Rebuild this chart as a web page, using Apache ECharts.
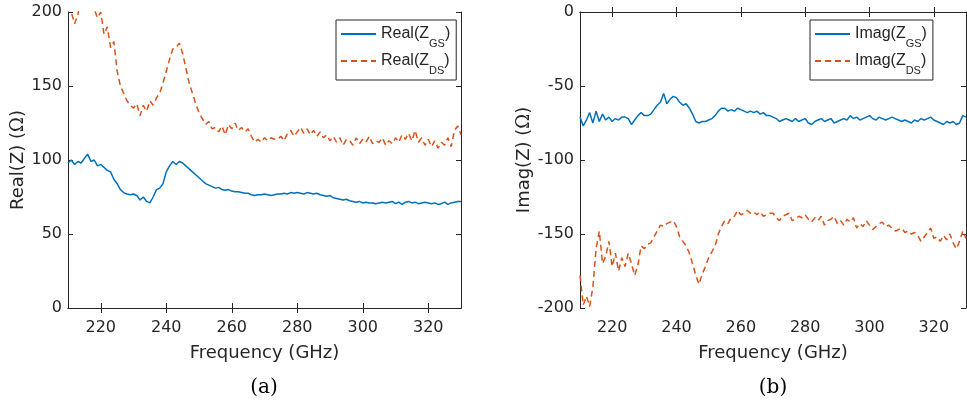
<!DOCTYPE html>
<html>
<head>
<meta charset="utf-8">
<script src="https://cdn.jsdelivr.net/npm/echarts@6/dist/echarts.min.js"></script>
<style>
  html, body { margin: 0; padding: 0; background: #fff; }
  #main { width: 967px; height: 403px; }
</style>
</head>
<body>
<div id="main"></div>
<script>
// frequency points (GHz)
const freq = [
  210, 211, 212, 213, 214, 215, 216, 217, 218, 219, 220,
  221, 222, 223, 224, 225, 226, 227, 228, 229, 230,
  231, 232, 233, 234, 235, 236, 237, 238, 239, 240,
  241, 242, 243, 244, 245, 246, 247, 248, 249, 250,
  251, 252, 253, 254, 255, 256, 257, 258, 259, 260,
  261, 262, 263, 264, 265, 266, 267, 268, 269, 270,
  271, 272, 273, 274, 275, 276, 277, 278, 279, 280,
  281, 282, 283, 284, 285, 286, 287, 288, 289, 290,
  291, 292, 293, 294, 295, 296, 297, 298, 299, 300,
  301, 302, 303, 304, 305, 306, 307, 308, 309, 310,
  311, 312, 313, 314, 315, 316, 317, 318, 319, 320,
  321, 322, 323, 324, 325, 326, 327, 328, 329, 330
]

const realGS = [
  98, 100, 97, 99, 98, 101, 104, 99, 100, 96, 97,
  95, 93, 92, 87, 84, 80, 78, 77, 76.5, 77,
  76, 73, 75, 72, 71, 75, 80, 81, 84, 92,
  96, 99, 97, 99, 98, 96, 94, 92, 90, 88,
  86, 84, 83, 82, 81, 81.5, 80, 79.5, 80, 79,
  78.5, 78.5, 78, 77.5, 77.5, 76.5, 76, 76.5, 76.5, 77,
  76.5, 76, 76.5, 77, 77, 77.5, 77, 78, 77.5, 78,
  77.5, 77, 78, 77.5, 77, 77.5, 76.5, 76, 75.5, 76,
  74.5, 74, 73.5, 73, 73.5, 72.5, 72, 71.5, 72, 71,
  71.5, 71, 71, 70.5, 71, 71.5, 71, 71.5, 72, 70.5,
  71.5, 70, 71.5, 72, 71, 71.5, 70.5, 71, 71.5, 71,
  70.5, 71, 70, 70.5, 71.5, 70, 71, 71.5, 72, 72
]

const realDS = [
  205, 200, 192, 198, 210, 215, 210, 205, 202, 196, 200,
  185, 190, 176, 180, 160, 150, 145, 140, 137, 135,
  138, 130, 137, 133, 140, 137, 142, 145, 152, 160,
  168, 175, 176, 179, 172, 162, 152, 145, 138, 132,
  128, 124, 126, 121, 122, 119, 123, 117, 124, 121,
  125, 120, 122, 119, 121, 116, 112, 114, 112, 115,
  113, 115, 114, 114, 116, 113, 118, 120, 116, 119,
  122, 118, 121, 117, 120, 116, 119, 115, 117, 113,
  116, 112, 115, 110, 114, 113, 110, 115, 111, 114,
  112, 116, 111, 113, 112, 115, 110, 113, 111, 115,
  112, 117, 114, 118, 113, 120, 112, 115, 110, 114,
  109, 113, 108, 112, 110, 115, 109, 120, 123, 117
]

const imagGS = [
  -71, -77, -73, -68, -75, -67, -74, -69, -73, -71, -74,
  -72, -73, -71, -71, -72, -76, -73, -70, -68, -70,
  -70, -69, -66, -63, -61, -55, -62, -59, -57, -58,
  -61, -63, -62, -65, -69, -74, -75, -74, -74, -73,
  -72, -70, -67, -65, -65, -67, -66, -67, -65, -66,
  -67, -68, -67, -68, -67, -69, -68, -70, -70, -71,
  -72, -74, -73, -72, -73, -74, -72, -74, -73, -72,
  -75, -76, -74, -73, -72, -74, -73, -72, -75, -74,
  -73, -72, -73, -70, -72, -71, -73, -72, -71, -70,
  -72, -73, -71, -72, -73, -72, -71, -72, -73, -74,
  -73, -74, -75, -73, -74, -72, -73, -72, -71, -73,
  -74, -75, -76, -74, -75, -74, -76, -75, -70, -71
]

const imagDS = [
  -178, -198, -192, -199, -186, -160, -148, -170, -165, -155, -172,
  -163, -175, -166, -172, -163, -170, -178, -171, -158, -160,
  -157, -156, -152, -148, -144, -145, -143, -142, -141, -145,
  -152, -155, -158, -163, -170, -178, -184, -177, -172, -166,
  -162, -158, -150, -145, -141, -143, -139, -138, -134, -137,
  -136, -134, -136, -135, -137, -135, -138, -137, -136, -136,
  -139, -141, -138, -137, -136, -141, -140, -138, -139, -137,
  -140, -142, -139, -141, -138, -144, -141, -140, -138, -143,
  -141, -144, -140, -142, -139, -146, -143, -145, -141, -144,
  -147, -145, -143, -142, -145, -144, -146, -148, -147, -146,
  -149, -148, -150, -149, -151, -155, -152, -149, -146, -153,
  -152, -155, -151, -154, -150, -156, -160, -155, -148, -153
]

const xTicks = [220, 240, 260, 280, 300, 320]
const names = ['Real(Z_GS)', 'Real(Z_DS)', 'Imag(Z_GS)', 'Imag(Z_DS)']

const BLUE = '#0072BD'
const ORANGE = '#D95319'
const AX = '#262626'
const FONT = 'DejaVu Sans'
const LFONT = 'Liberation Sans'

const pairs = (ys) => freq.map((f, i) => [f, ys[i]])

const xAxisFor = (grid, top) => ({
  type: 'value', gridIndex: grid, min: 210, max: 330,
  position: top ? 'top' : 'bottom',
  axisLine: { show: true, lineStyle: { color: AX, width: 1 } },
  axisTick: { show: true, inside: true, length: 5, customValues: xTicks, lineStyle: { color: AX } },
  axisLabel: { show: !top, customValues: xTicks, color: AX, fontSize: 16, fontFamily: FONT, margin: 12 },
  splitLine: { show: false },
  name: top ? '' : 'Frequency (GHz)',
  nameLocation: 'middle', nameGap: 36,
  nameTextStyle: { color: AX, fontSize: 18, fontFamily: FONT }
})

const yAxisFor = (grid, right, min, max, name, gap) => ({
  type: 'value', gridIndex: grid, min: min, max: max, interval: 50,
  position: right ? 'right' : 'left',
  axisLine: { show: true, lineStyle: { color: AX, width: 1 } },
  axisTick: { show: true, inside: true, length: 5, lineStyle: { color: AX } },
  axisLabel: { show: !right, color: AX, fontSize: 16, fontFamily: FONT, margin: 6 },
  splitLine: { show: false },
  name: right ? '' : '{t|' + name + ' (}{o|Ω}{t|)}',
  nameLocation: 'middle', nameGap: gap,
  nameTextStyle: {
    color: AX, fontSize: 18, fontFamily: FONT,
    rich: {
      t: { fontSize: 18, fontFamily: FONT, color: AX },
      o: { fontSize: 18, fontFamily: 'DejaVu Serif', color: AX }
    }
  }
})

// turn 'Real(Z_GS)' into rich text with a subscript
const subFmt = (n) => {
  const m = n.match(/^(.*)_(\w+)\)$/)
  return '{n|' + m[1] + '}{s|' + m[2] + '}{n|)}'
}
const legendRich = {
  n: { fontSize: 16, fontFamily: LFONT, color: AX, lineHeight: 30 },
  s: { fontSize: 11, fontFamily: LFONT, color: AX, lineHeight: 11, verticalAlign: 'bottom' }
}
const legendFor = (left, data) => ({
  orient: 'vertical', left: left, top: 20,
  data: data,
  itemWidth: 35, itemHeight: 14, itemGap: 4,
  padding: [6, 6, 4, 4],
  borderColor: AX, borderWidth: 1, backgroundColor: '#fff',
  itemStyle: { opacity: 0 },
  formatter: subFmt,
  textStyle: { rich: legendRich }
})

const lineSeries = (name, xi, yi, data, color, dashed) => ({
  name: name, type: 'line', xAxisIndex: xi, yAxisIndex: yi,
  data: data, showSymbol: false, symbol: 'none', clip: true,
  lineStyle: { color: color, width: 1.5, type: dashed ? [6, 4] : 'solid' },
  itemStyle: { color: color },
  emphasis: { disabled: true }
})

const chart = echarts.init(document.getElementById('main'))
chart.setOption({
  animation: false,
  backgroundColor: '#fff',
  grid: [
    { left: 68, top: 12, width: 393, height: 296 },
    { left: 580, top: 12, width: 386, height: 296 }
  ],
  xAxis: [
    xAxisFor(0, false), xAxisFor(0, true),
    xAxisFor(1, false), xAxisFor(1, true)
  ],
  yAxis: [
    yAxisFor(0, false, 0, 200, 'Real(Z)', 40), yAxisFor(0, true, 0, 200),
    yAxisFor(1, false, -200, 0, 'Imag(Z)', 47), yAxisFor(1, true, -200, 0)
  ],
  legend: [
    legendFor(336, [names[0], names[1]]),
    legendFor(810, [names[2], names[3]])
  ],
  series: [
    lineSeries(names[0], 0, 0, pairs(realGS), BLUE, false),
    lineSeries(names[1], 0, 0, pairs(realDS), ORANGE, true),
    lineSeries(names[2], 2, 2, pairs(imagGS), BLUE, false),
    lineSeries(names[3], 2, 2, pairs(imagDS), ORANGE, true)
  ],
  graphic: [
    { type: 'text', x: 264, y: 388, style: { text: '(a)', font: '20px "DejaVu Serif"', fill: '#000', align: 'center', verticalAlign: 'middle' } },
    { type: 'text', x: 773, y: 388, style: { text: '(b)', font: '20px "DejaVu Serif"', fill: '#000', align: 'center', verticalAlign: 'middle' } }
  ]
})
</script>
</body>
</html>
